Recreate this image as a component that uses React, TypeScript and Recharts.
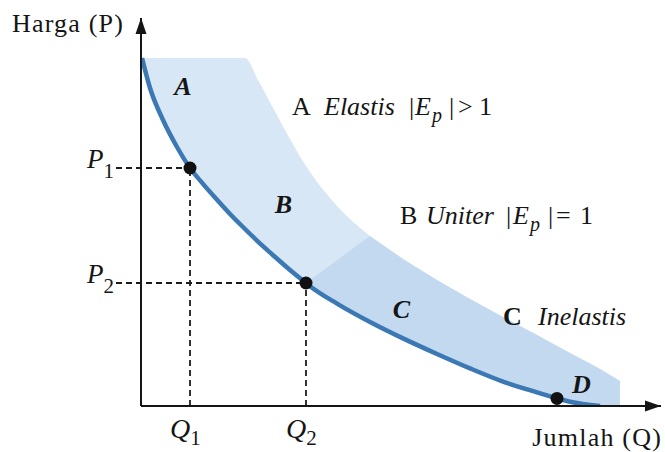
import React from 'react';
import { ComposedChart, Area, Line, XAxis, YAxis, ReferenceLine, ReferenceDot } from 'recharts';

// Quantity sample points (arbitrary units) along the demand curve
const quantity = [0.2, 1.8, 4.4, 7.2, 9.8, 11.8, 14.8, 17.8, 20.8, 23.4, 26.2, 29.8, 33, 33.8, 39.2, 45.8, 52.4, 59.2, 65.8, 72.4, 79.2, 83.2, 85.8, 91.8, 95.8];
// Price on the demand curve at each quantity
const demandPrice = [87, 79.5, 71.5, 64.75, 59.5, 56.4, 52.1, 48, 44.25, 41.1, 37.95, 34, 30.75, 29.95, 25.6, 21, 16.9, 13, 9.4, 6.1, 3.4, 1.9, 1.05, 0, 0];
// Upper edge of the shaded band at each quantity
const bandUpper = [87, 87, 87, 87, 87, 87, 87, 87, 87, 81.5, 75, 66.75, 60, 58.5, 50, 42.5, 36.75, 31.5, 26.75, 22.25, 17.75, 15, 13.25, 9.25, 6.25];
// Inelastic (C) region: starts at index 12 of quantity; its upper edge
const inelasticStart = 12;
const inelasticUpper = [30.75, 31.5, 36.45, 42.5, 36.75, 31.5, 26.75, 22.25, 17.75, 15, 13.25, 9.25, 6.25];

const qTicks = [9.8, 33];
const qTickLabels = ['Q1', 'Q2'];
const pTicks = [59.5, 30.75];
const pTickLabels = ['P1', 'P2'];
const markedPoints = [
  { q: 9.8, p: 59.5 },
  { q: 33, p: 30.75 },
  { q: 83.2, p: 1.9 },
];
const regionLabels = [
  { text: 'A', q: 8.4, p: 77.75 },
  { text: 'B', q: 28.5, p: 48.25 },
  { text: 'C', q: 52.1, p: 22 },
  { text: 'D', q: 88.1, p: 3.25 },
];

const demandLineData = quantity.slice(0, quantity.length - 1).map((q, i) => ({ q, p: demandPrice[i] }));
const bandData = quantity.map((q, i) => ({ q, band: [demandPrice[i], bandUpper[i]] }));
const inelasticData = inelasticUpper.map((u, i) => ({
  q: quantity[inelasticStart + i],
  band: [demandPrice[inelasticStart + i], u],
}));

const FONT = '"Liberation Serif", "Times New Roman", serif';
const INK = '#151515';

const QTick = (props: any) => {
  const { x, y, payload } = props;
  const i = qTicks.indexOf(payload.value);
  const label = qTickLabels[i] ?? '';
  return (
    <text x={x - 20} y={y + 24} fill={INK} fontFamily={FONT}>
      <tspan fontStyle="italic" fontSize={28}>{label.charAt(0)}</tspan>
      <tspan fontSize={21} dy={7}>{label.slice(1)}</tspan>
    </text>
  );
};

const PTick = (props: any) => {
  const { x, y, payload } = props;
  const i = pTicks.indexOf(payload.value);
  const label = pTickLabels[i] ?? '';
  return (
    <text x={x - 19} y={y} fill={INK} fontFamily={FONT} textAnchor="end">
      <tspan fontStyle="italic" fontSize={27}>{label.charAt(0)}</tspan>
      <tspan fontSize={21} dy={10}>{label.slice(1)}</tspan>
    </text>
  );
};

type Part = { t: string; dx: number; italic?: boolean; bold?: boolean; sub?: boolean };

const makeLegend = (parts: Part[]) => (props: any) => {
  const { cx, cy } = props;
  return (
    <text y={cy} fill={INK} fontFamily={FONT} fontSize={26}>
      {parts.map((p, i) => (
        <tspan
          key={i}
          x={cx + p.dx}
          y={p.sub ? cy + 7 : cy}
          fontStyle={p.italic ? 'italic' : 'normal'}
          fontWeight={p.bold ? 'bold' : 'normal'}
          fontSize={p.sub ? 20 : 26}
        >
          {p.t}
        </tspan>
      ))}
    </text>
  );
};

const legendA = makeLegend([
  { t: 'A', dx: 0 },
  { t: 'Elastis', dx: 32, italic: true },
  { t: '|', dx: 117 },
  { t: 'E', dx: 123, italic: true },
  { t: 'p', dx: 140, italic: true, sub: true },
  { t: '|', dx: 157 },
  { t: '>', dx: 166 },
  { t: '1', dx: 187 },
]);
const legendB = makeLegend([
  { t: 'B', dx: 0 },
  { t: 'Uniter', dx: 26, italic: true },
  { t: '|', dx: 106 },
  { t: 'E', dx: 113, italic: true },
  { t: 'p', dx: 130, italic: true, sub: true },
  { t: '|', dx: 148 },
  { t: '=', dx: 156 },
  { t: '1', dx: 180 },
]);
const legendC = makeLegend([
  { t: 'C', dx: 0, bold: true },
  { t: 'Inelastis', dx: 35, italic: true },
]);

const regionLabel = (text: string) => (props: any) => (
  <text x={props.cx} y={props.cy} textAnchor="middle" fill={INK} fontFamily={FONT} fontSize={26} fontWeight="bold" fontStyle="italic">
    {text}
  </text>
);

const axisTitle = (text: string, anchor: 'start' | 'end') => (props: any) => (
  <text x={props.cx} y={props.cy} textAnchor={anchor} fill={INK} fontFamily={FONT} fontSize={26} letterSpacing={1.2}>
    {text}
  </text>
);

const upArrow = (props: any) => {
  const { cx, cy } = props;
  return <polygon points={`${cx},${cy} ${cx - 5.5},${cy + 16} ${cx + 5.5},${cy + 16}`} fill={INK} />;
};
const rightArrow = (props: any) => {
  const { cx, cy } = props;
  return <polygon points={`${cx},${cy} ${cx - 16},${cy - 5.5} ${cx - 16},${cy + 5.5}`} fill={INK} />;
};

const dashStyle = { stroke: '#1c1c1c', strokeWidth: 1.8, strokeDasharray: '6 4' };

export default function App() {
  return (
    <div style={{ position: 'absolute', left: 0, top: 0, width: 665, height: 452, background: '#fff' }}>
      <ComposedChart width={665} height={452} margin={{ top: 18, right: 4, bottom: 0, left: 0 }}>
        <XAxis
          type="number"
          dataKey="q"
          domain={[0, 104]}
          ticks={qTicks}
          tick={<QTick />}
          tickLine={false}
          axisLine={{ stroke: INK, strokeWidth: 2 }}
          height={46}
          allowDataOverflow
          interval={0}
        />
        <YAxis
          type="number"
          domain={[0, 97]}
          ticks={pTicks}
          tick={<PTick />}
          tickLine={false}
          axisLine={{ stroke: INK, strokeWidth: 2 }}
          width={141}
          allowDataOverflow
          interval={0}
        />
        <Area
          data={bandData}
          dataKey="band"
          type="monotone"
          stroke="none"
          fill="#d8e7f5"
          fillOpacity={1}
          isAnimationActive={false}
          activeDot={false}
        />
        <Area
          data={inelasticData}
          dataKey="band"
          type="linear"
          stroke="none"
          fill="#c2d9ef"
          fillOpacity={1}
          isAnimationActive={false}
          activeDot={false}
        />
        <ReferenceLine segment={[{ x: -5, y: pTicks[0] }, { x: qTicks[0], y: pTicks[0] }]} ifOverflow="visible" {...dashStyle} />
        <ReferenceLine segment={[{ x: -5, y: pTicks[1] }, { x: qTicks[1], y: pTicks[1] }]} ifOverflow="visible" {...dashStyle} />
        <ReferenceLine segment={[{ x: qTicks[0], y: 0 }, { x: qTicks[0], y: pTicks[0] }]} ifOverflow="visible" {...dashStyle} />
        <ReferenceLine segment={[{ x: qTicks[1], y: 0 }, { x: qTicks[1], y: pTicks[1] }]} ifOverflow="visible" {...dashStyle} />
        <Line
          data={demandLineData}
          dataKey="p"
          type="monotone"
          stroke="#3b78b4"
          strokeWidth={4.5}
          dot={false}
          activeDot={false}
          isAnimationActive={false}
        />
        {markedPoints.map((m, i) => (
          <ReferenceDot key={`pt${i}`} x={m.q} y={m.p} r={6.5} fill="#111" stroke="none" ifOverflow="visible" />
        ))}
        {regionLabels.map((r, i) => (
          <ReferenceDot key={`rl${i}`} x={r.q} y={r.p} r={0} ifOverflow="visible" shape={regionLabel(r.text)} />
        ))}
        <ReferenceDot x={30.2} y={72.75} r={0} ifOverflow="visible" shape={legendA} />
        <ReferenceDot x={51.8} y={45.5} r={0} ifOverflow="visible" shape={legendB} />
        <ReferenceDot x={72.4} y={20.25} r={0} ifOverflow="visible" shape={legendC} />
        <ReferenceDot x={-25.8} y={93.6} r={0} ifOverflow="visible" shape={axisTitle('Harga (P)', 'start')} />
        <ReferenceDot x={104.2} y={-10} r={0} ifOverflow="visible" shape={axisTitle('Jumlah (Q)', 'end')} />
        <ReferenceDot x={0} y={97} r={0} ifOverflow="visible" shape={upArrow} />
        <ReferenceDot x={104} y={0} r={0} ifOverflow="visible" shape={rightArrow} />
      </ComposedChart>
    </div>
  );
}
